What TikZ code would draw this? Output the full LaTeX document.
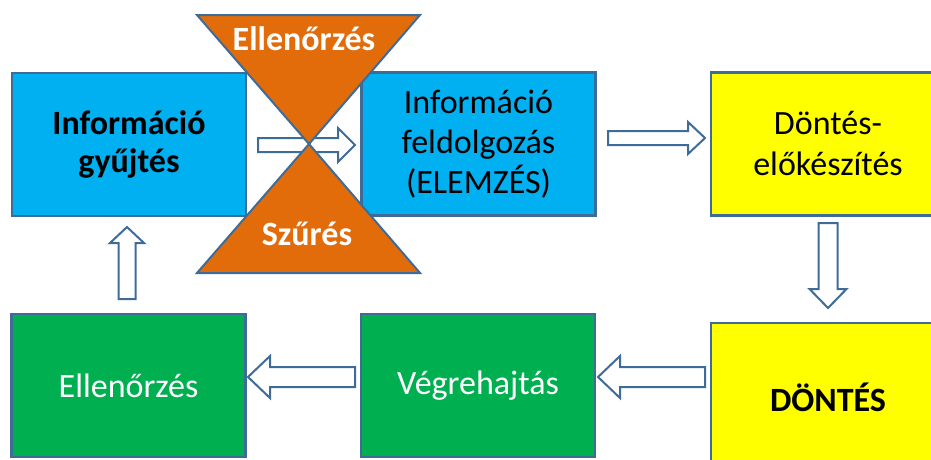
\documentclass[tikz,border=0pt]{standalone}
\usepackage{fontspec}
\setmainfont{Carlito}
\usetikzlibrary{calc}
\definecolor{cblue}{HTML}{00B0F0}
\definecolor{cyellow}{HTML}{FFFF00}
\definecolor{cgreen}{HTML}{00B050}
\definecolor{corange}{HTML}{E36C0A}
\definecolor{cline}{HTML}{3F6B99}
\tikzset{
  box/.style={draw=cline, line width=2.2pt, minimum width=234pt, minimum height=143pt, align=center, inner sep=0pt},
  bluebox/.style={box, fill=cblue},
  yellowbox/.style={box, fill=cyellow},
  greenbox/.style={box, fill=cgreen, text=white},
  tri/.style={draw=cline, line width=2pt, fill=corange, line join=miter},
  trilabel/.style={text=white, font=\fontsize{34}{40}\selectfont\bfseries},
  barrow/.style={draw=cline, line width=2pt, fill=white, line join=miter},
}
\newcommand\blockarr[5]{% start, end, half shaft, half head, head length
  \draw[barrow] let \p1=(#1), \p2=(#2), \n1={veclen(\x2-\x1,\y2-\y1)}, \n2={atan2(\y2-\y1,\x2-\x1)} in
  [shift={(\p1)}, rotate=\n2] (0pt,-#3) -- (\n1-#5,-#3) -- (\n1-#5,-#4) -- (\n1,0pt) -- (\n1-#5,#4) -- (\n1-#5,#3) -- (0pt,#3) -- cycle;}
\begin{document}
\begin{tikzpicture}[x=1pt,y=-1pt]
\useasboundingbox (0,0) rectangle (931,459);
\clip (0,0) rectangle (931,459);
\node[bluebox, font=\fontsize{34}{38}\selectfont\bfseries] (gy) at (129,144.5) {Információ\\gyűjtés};
\node[bluebox, font=\fontsize{34}{40}\selectfont] (fe) at (478.5,144) {Információ\\feldolgozás\\(ELEMZÉS)};
\node[yellowbox, font=\fontsize{34}{41}\selectfont] (el) at (828,144) {Döntés-\\előkészítés};
\node[yellowbox, minimum height=148pt, font=\fontsize{34}{40}\selectfont\bfseries] (do) at (828,397) {DÖNTÉS};
\node[greenbox, font=\fontsize{34}{40}\selectfont] (ve) at (478,385.5) {Végrehajtás};
\node[greenbox, font=\fontsize{34}{40}\selectfont] (ek) at (128.5,385.5) {Ellenőrzés};
% small arrow (under the hourglass)
\coordinate (a0s) at (258,145); \coordinate (a0e) at (355,145);
\blockarr{a0s}{a0e}{7pt}{17pt}{17pt}
% hourglass
\coordinate (tl) at (197,15); \coordinate (tr) at (420,15); \coordinate (mid) at (309,144);
\coordinate (bl) at (197,273); \coordinate (br) at (420,273);
\draw[tri] (tl) -- (tr) -- (mid) -- cycle;
\draw[tri] (bl) -- (br) -- (mid) -- cycle;
\node[trilabel] (lab1) at (304,39) {Ellenőrzés};
\node[trilabel] (lab2) at (307,234) {Szűrés};
% arrows
\coordinate (a1s) at (608,138); \coordinate (a1e) at (705,138);
\blockarr{a1s}{a1e}{7pt}{16pt}{17pt}
\coordinate (a2s) at (828,223); \coordinate (a2e) at (828,308);
\blockarr{a2s}{a2e}{9.5pt}{18.5pt}{19pt}
\coordinate (a3s) at (705,377); \coordinate (a3e) at (598,377);
\blockarr{a3s}{a3e}{10pt}{21pt}{22pt}
\coordinate (a4s) at (355,377); \coordinate (a4e) at (248,377);
\blockarr{a4s}{a4e}{10pt}{21pt}{22pt}
\coordinate (a5s) at (127,299); \coordinate (a5e) at (127,227);
\blockarr{a5s}{a5e}{8.5pt}{17pt}{16pt}
\end{tikzpicture}
\end{document}
